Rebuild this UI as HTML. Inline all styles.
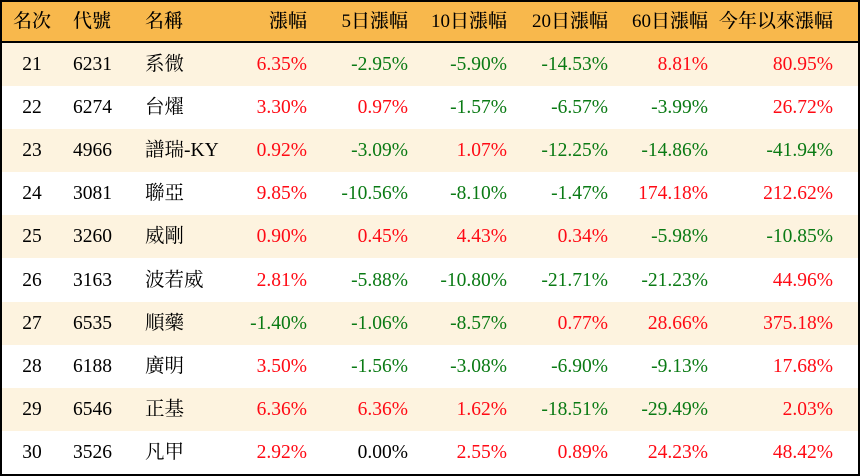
<!DOCTYPE html>
<html><head><meta charset="utf-8"><style>
html,body{margin:0;padding:0;background:#fff;}
#t{position:absolute;left:0;top:0;width:856px;height:472px;border:2px solid #000;background:#fff;overflow:hidden;}
.row{position:absolute;left:0;width:856px;height:43.1px;}
.hdr{top:0;height:39px;background:#f8b84c;border-bottom:2px solid #000;}
.c{position:absolute;top:0;line-height:43px;font-family:"Liberation Serif","Noto Serif CJK SC","Noto Sans CJK TC",serif;font-size:19.5px;color:#000;white-space:nowrap;}
.hdr .c{line-height:39px;font-weight:500;font-size:19px;}
.r{text-align:right;}
.red{color:#ff0a14;}
.grn{color:#0a7a14;}
</style></head><body>
<div id="t"></div>
<script>
const ranks=[21,22,23,24,25,26,27,28,29,30];
const codes=["6231","6274","4966","3081","3260","3163","6535","6188","6546","3526"];
const names=["系微","台燿","譜瑞-KY","聯亞","威剛","波若威","順藥","廣明","正基","凡甲"];
const chg=["6.35%","3.30%","0.92%","9.85%","0.90%","2.81%","-1.40%","3.50%","6.36%","2.92%"];
const chg5=["-2.95%","0.97%","-3.09%","-10.56%","0.45%","-5.88%","-1.06%","-1.56%","6.36%","0.00%"];
const chg10=["-5.90%","-1.57%","1.07%","-8.10%","4.43%","-10.80%","-8.57%","-3.08%","1.62%","2.55%"];
const chg20=["-14.53%","-6.57%","-12.25%","-1.47%","0.34%","-21.71%","0.77%","-6.90%","-18.51%","0.89%"];
const chg60=["8.81%","-3.99%","-14.86%","174.18%","-5.98%","-21.23%","28.66%","-9.13%","-29.49%","24.23%"];
const ytd=["80.95%","26.72%","-41.94%","212.62%","-10.85%","44.96%","375.18%","17.68%","2.03%","48.42%"];
const headers=["名次","代號","名稱","漲幅","5日漲幅","10日漲幅","20日漲幅","60日漲幅","今年以來漲幅"];
const t=document.getElementById('t');
const cols=[{a:'c',x:30},{a:'l',x:71},{a:'l',x:143},{a:'r',x:305},{a:'r',x:406},{a:'r',x:505},{a:'r',x:606},{a:'r',x:706},{a:'r',x:831}];
const colNames=["rank","code","name","change","change-5d","change-10d","change-20d","change-60d","change-ytd"];
function cell(parent,text,i,cls){
  const d=document.createElement('div');
  d.className='c '+(cls||'');
  const c=cols[i];
  if(c.a==='l'){d.style.left=c.x+'px';}
  else if(c.a==='r'){d.style.right=(856-c.x)+'px';d.classList.add('r');}
  else {d.style.left=(c.x-40)+'px';d.style.width='80px';d.style.textAlign='center';}
  d.textContent=text;
  parent.appendChild(d);
  return d;
}
const h=document.createElement('div');h.className='row hdr';


t.appendChild(h);
headers.forEach((s,i)=>{const d=cell(h,s,i);

});
const sets=[chg,chg5,chg10,chg20,chg60,ytd];
ranks.forEach((r,k)=>{
  const row=document.createElement('div');row.className='row';
  row.style.top=(41+k*43.1)+'px';
  row.style.background=k%2===0?'#fdf3df':'#fff';
  
  
  t.appendChild(row);
  const vals=[String(r),codes[k],names[k]].concat(sets.map(s=>s[k]));
  vals.forEach((v,i)=>{
    let cls='';
    if(i>=3){cls=v.startsWith('-')?'grn':(v==='0.00%'?'':'red');}
    const d=cell(row,v,i,cls);
    
    
  });
});
</script>
</body></html>
